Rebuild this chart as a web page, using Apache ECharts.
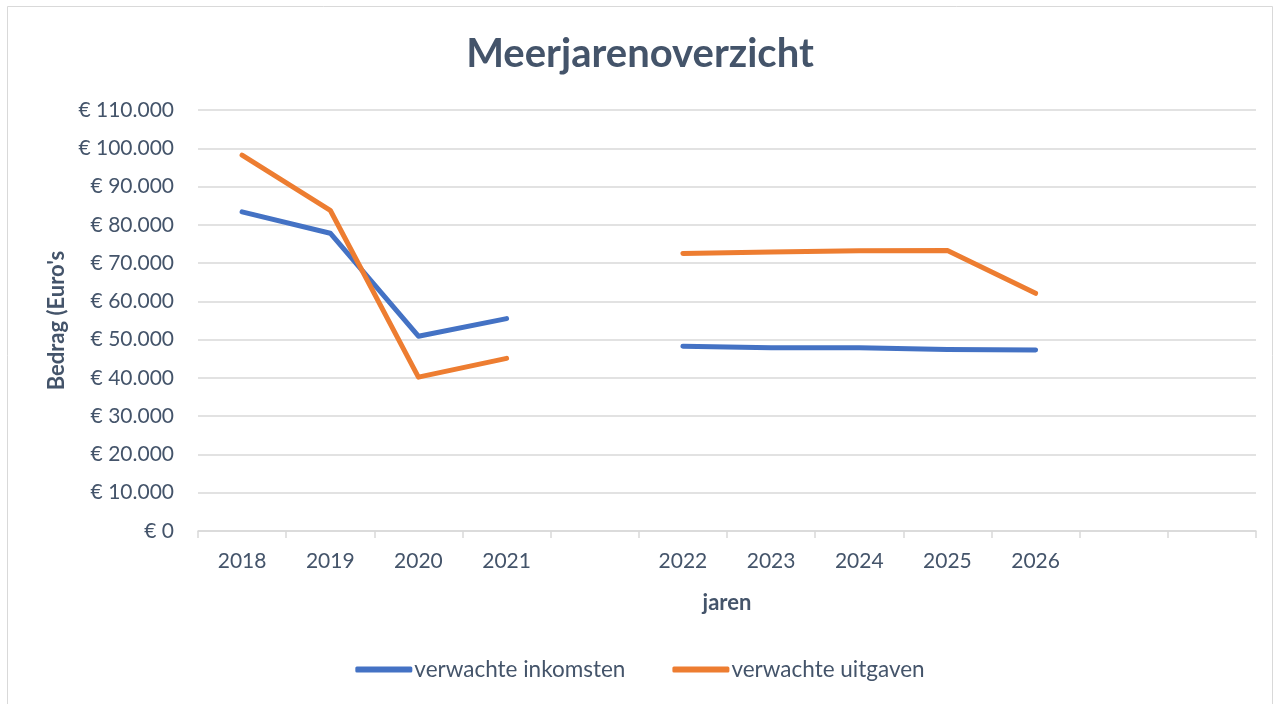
<!DOCTYPE html>
<html>
<head>
<meta charset="utf-8">
<script src="https://cdn.jsdelivr.net/npm/echarts@6/dist/echarts.min.js"></script>
<style>
  html, body { margin: 0; padding: 0; background: #fff; }
  #chart { width: 1280px; height: 704px; }
</style>
</head>
<body>
<div id="chart"></div>
<script>
const categories = ['2018', '2019', '2020', '2021', '', '2022', '2023', '2024', '2025', '2026', '', ''];
const inkomsten = [83400, 77800, 50900, 55500, null, 48300, 47900, 47900, 47400, 47300, null, null];
const uitgaven = [98200, 83800, 40200, 45100, null, 72500, 72900, 73200, 73300, 62100, null, null];
const yTicks = { min: 0, max: 110000, interval: 10000 };

const textColor = '#44546A';
const fontFam = 'Lato, "Open Sans", sans-serif';

function euro(v) {
  const s = String(Math.round(v)).replace(/\B(?=(\d{3})+(?!\d))/g, '.');
  return '€ ' + s;
}

const chart = echarts.init(document.getElementById('chart'), null, { renderer: 'canvas' });
chart.setOption({
  backgroundColor: '#ffffff',
  animation: false,
  graphic: [{
    type: 'rect',
    shape: { x: 7.5, y: 6.5, width: 1265, height: 710 },
    style: { fill: 'none', stroke: '#D9D9D9', lineWidth: 1 },
    silent: true, z: -1
  }],
  title: {
    text: 'Meerjarenoverzicht',
    left: 'center',
    top: 29,
    textStyle: { color: textColor, fontSize: 40, fontWeight: 'bold', fontFamily: fontFam }
  },
  legend: {
    bottom: 18,
    left: 'center',
    itemWidth: 57,
    itemHeight: 6,
    itemGap: 47,
    icon: 'roundRect',
    textStyle: { color: textColor, fontSize: 22.5, fontFamily: fontFam, padding: [0, 0, 0, -3] },
    data: ['verwachte inkomsten', 'verwachte uitgaven']
  },
  grid: { left: 198, right: 24, top: 110, bottom: 173, containLabel: false },
  xAxis: {
    type: 'category',
    data: categories,
    boundaryGap: true,
    name: 'jaren',
    nameLocation: 'middle',
    nameGap: 61,
    nameTextStyle: { color: textColor, fontSize: 22, fontWeight: 'bold', fontFamily: fontFam },
    axisLine: { lineStyle: { color: '#D9D9D9', width: 1.5 } },
    axisTick: { show: true, length: 7, interval: 0, lineStyle: { color: '#D9D9D9', width: 1.5 } },
    axisLabel: { color: textColor, fontSize: 21, fontFamily: fontFam, margin: 20, interval: 0 },
    splitLine: { show: false }
  },
  yAxis: {
    type: 'value',
    min: yTicks.min,
    max: yTicks.max,
    interval: yTicks.interval,
    name: "Bedrag (Euro's",
    nameLocation: 'middle',
    nameGap: 130,
    nameTextStyle: { color: textColor, fontSize: 22, fontWeight: 'bold', fontFamily: fontFam },
    axisLine: { show: false },
    axisTick: { show: false },
    axisLabel: { color: textColor, fontSize: 21, fontFamily: fontFam, margin: 24, formatter: euro },
    splitLine: { lineStyle: { color: '#D9D9D9', width: 1.5 } }
  },
  series: [
    {
      name: 'verwachte inkomsten',
      type: 'line',
      data: inkomsten,
      showSymbol: false,
      symbol: 'none',
      connectNulls: false,
      color: '#4472C4',
      lineStyle: { color: '#4472C4', width: 5, cap: 'round', join: 'round' }
    },
    {
      name: 'verwachte uitgaven',
      type: 'line',
      data: uitgaven,
      showSymbol: false,
      symbol: 'none',
      connectNulls: false,
      color: '#ED7D31',
      lineStyle: { color: '#ED7D31', width: 5, cap: 'round', join: 'round' }
    }
  ]
});
</script>
</body>
</html>
